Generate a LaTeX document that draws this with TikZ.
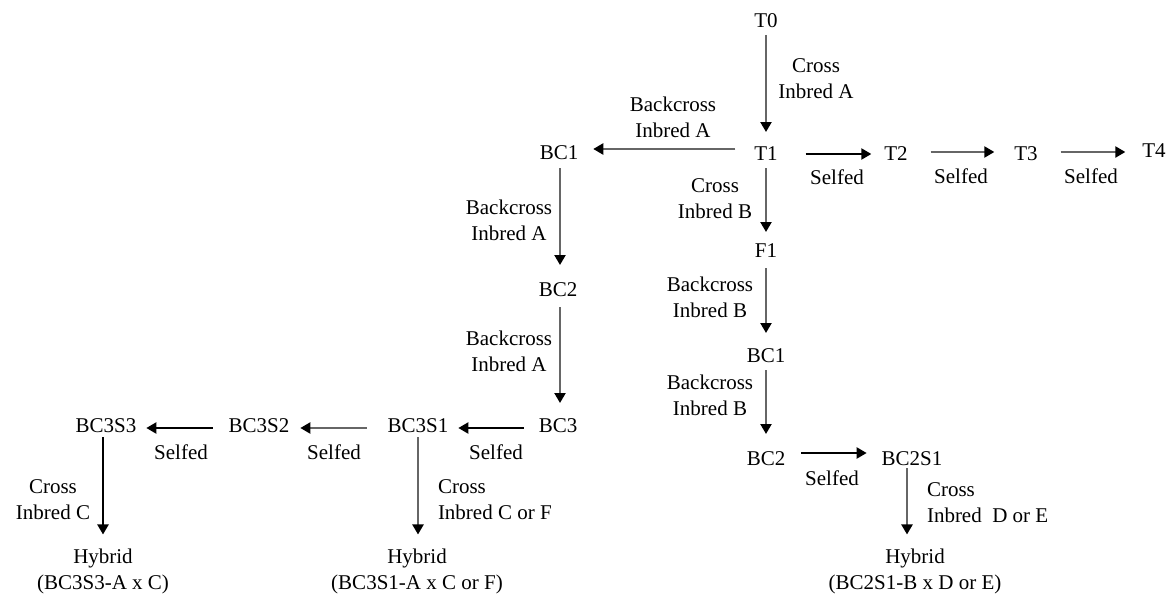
\documentclass[tikz,border=0pt]{standalone}
\usepackage{fontspec}
\setmainfont{Liberation Serif}
\usetikzlibrary{arrows.meta}
\begin{document}
\begin{tikzpicture}[x=1pt,y=-1pt,
  every node/.style={inner sep=0pt,outer sep=0pt,font=\fontsize{21}{26}\selectfont},
  gen/.style={text height=14pt,text depth=0pt},
  lab/.style={align=center},
  labl/.style={align=left,anchor=west},
  hyb/.style={align=center},
  base/.style={line width=2.2pt,-{Triangle[length=10pt,width=11pt,color=black]}},
  arr/.style={base,draw=black},
  garr/.style={base,draw=black!60}]
\useasboundingbox (0,0) rectangle (1172,594);
% generation nodes
\node[gen] (T0) at (766,21) {T0};
\node[gen] (T1) at (766,153) {T1};
\node[gen] (T2) at (896,153) {T2};
\node[gen] (T3) at (1026,153) {T3};
\node[gen] (T4) at (1154,150) {T4};
\node[gen] (BC1L) at (559,152) {BC1};
\node[gen] (BC2L) at (558,289) {BC2};
\node[gen] (BC3) at (558,425) {BC3};
\node[gen] (BC3S1) at (418,425) {BC3S1};
\node[gen] (BC3S2) at (259,425) {BC3S2};
\node[gen] (BC3S3) at (106,425) {BC3S3};
\node[gen] (F1) at (766,250) {F1};
\node[gen] (BC1R) at (766,355) {BC1};
\node[gen] (BC2R) at (766,458) {BC2};
\node[gen] (BC2S1) at (912,458) {BC2S1};
\node[hyb] (HybA) at (103,571) {Hybrid\\(BC3S3-A x C)};
\node[hyb] (HybB) at (417,571) {Hybrid\\(BC3S1-A x C or F)};
\node[hyb] (HybC) at (915,571) {Hybrid\\(BC2S1-B x D or E)};
% edge labels
\node[lab] (l01) at (816,79) {Cross\\Inbred A};
\node[lab] (l1bc) at (673,117) {Backcross\\Inbred A};
\node[lab] (l1f) at (715,199) {Cross\\Inbred B};
\node[gen] (s12) at (837,177) {Selfed};
\node[gen] (s23) at (961,176) {Selfed};
\node[gen] (s34) at (1091,176) {Selfed};
\node[lab] (lbc12) at (509,220) {Backcross\\Inbred A};
\node[lab] (lbc23) at (509,351) {Backcross\\Inbred A};
\node[gen] (s3a) at (496,452) {Selfed};
\node[gen] (s3b) at (334,452) {Selfed};
\node[gen] (s3c) at (181,452) {Selfed};
\node[lab] (lhA) at (53,500) {Cross\\Inbred C};
\node[labl] (lhB) at (438,500) {Cross\\Inbred C or F};
\node[lab] (lfr1) at (710,297) {Backcross\\Inbred B};
\node[lab] (lfr2) at (710,395) {Backcross\\Inbred B};
\node[gen] (s2r) at (832,478) {Selfed};
\node[labl] (lhC) at (927,503) {Cross\\Inbred\ \ D or E};
% connectors
\draw[garr,shorten <=7pt,shorten >=14pt] (T0) -- (T1);
\draw[garr,shorten <=19pt,shorten >=15pt] ([yshift=4pt]T1.west) -- ([yshift=4pt]T1.west -| BC1L.east);
\draw[arr,shorten <=28pt,shorten >=13pt] ([yshift=-1pt]T1.east) -- ([yshift=-1pt]T1.east -| T2.west);
\draw[garr,shorten <=23pt,shorten >=20pt] ([yshift=1pt]T2.east) -- ([yshift=1pt]T2.east -| T3.west);
\draw[garr,shorten <=23pt,shorten >=17pt] ([yshift=1pt]T3.east) -- ([yshift=1pt]T3.east -| T4.west);
\draw[garr,shorten <=8pt,shorten >=11pt] (T1) -- (F1);
\draw[garr,shorten <=11pt,shorten >=15pt] (F1) -- (BC1R);
\draw[garr,shorten <=8pt,shorten >=17pt] (BC1R) -- (BC2R);
\draw[arr,shorten <=16pt,shorten >=15pt] ([yshift=5pt]BC2R.east) -- ([yshift=5pt]BC2R.east -| BC2S1.west);
\draw[garr,shorten <=3pt,shorten >=14pt] ([xshift=-5pt]BC2S1.south) -- ([xshift=-5pt]BC2S1.south |- HybC.north);
\draw[garr,shorten <=9pt,shorten >=17pt] ([xshift=1pt]BC1L.south) -- ([xshift=1pt]BC1L.south |- BC2L.north);
\draw[garr,shorten <=11pt,shorten >=15pt] ([xshift=2pt]BC2L.south) -- ([xshift=2pt]BC2L.south |- BC3.north);
\draw[arr,shorten <=15pt,shorten >=10pt] ([yshift=-3pt]BC3.west) -- ([yshift=-3pt]BC3.west -| BC3S1.east);
\draw[garr,shorten <=21pt,shorten >=11pt] ([yshift=-3pt]BC3S1.west) -- ([yshift=-3pt]BC3S1.west -| BC3S2.east);
\draw[arr,shorten <=16pt,shorten >=10pt] ([yshift=-3pt]BC3S2.west) -- ([yshift=-3pt]BC3S2.west -| BC3S3.east);
\draw[arr,shorten <=5pt,shorten >=14pt] ([xshift=-3pt]BC3S3.south) -- ([xshift=-3pt]BC3S3.south |- HybA.north);
\draw[garr,shorten <=5pt,shorten >=14pt] (BC3S1.south) -- (BC3S1.south |- HybB.north);
\end{tikzpicture}
\end{document}
